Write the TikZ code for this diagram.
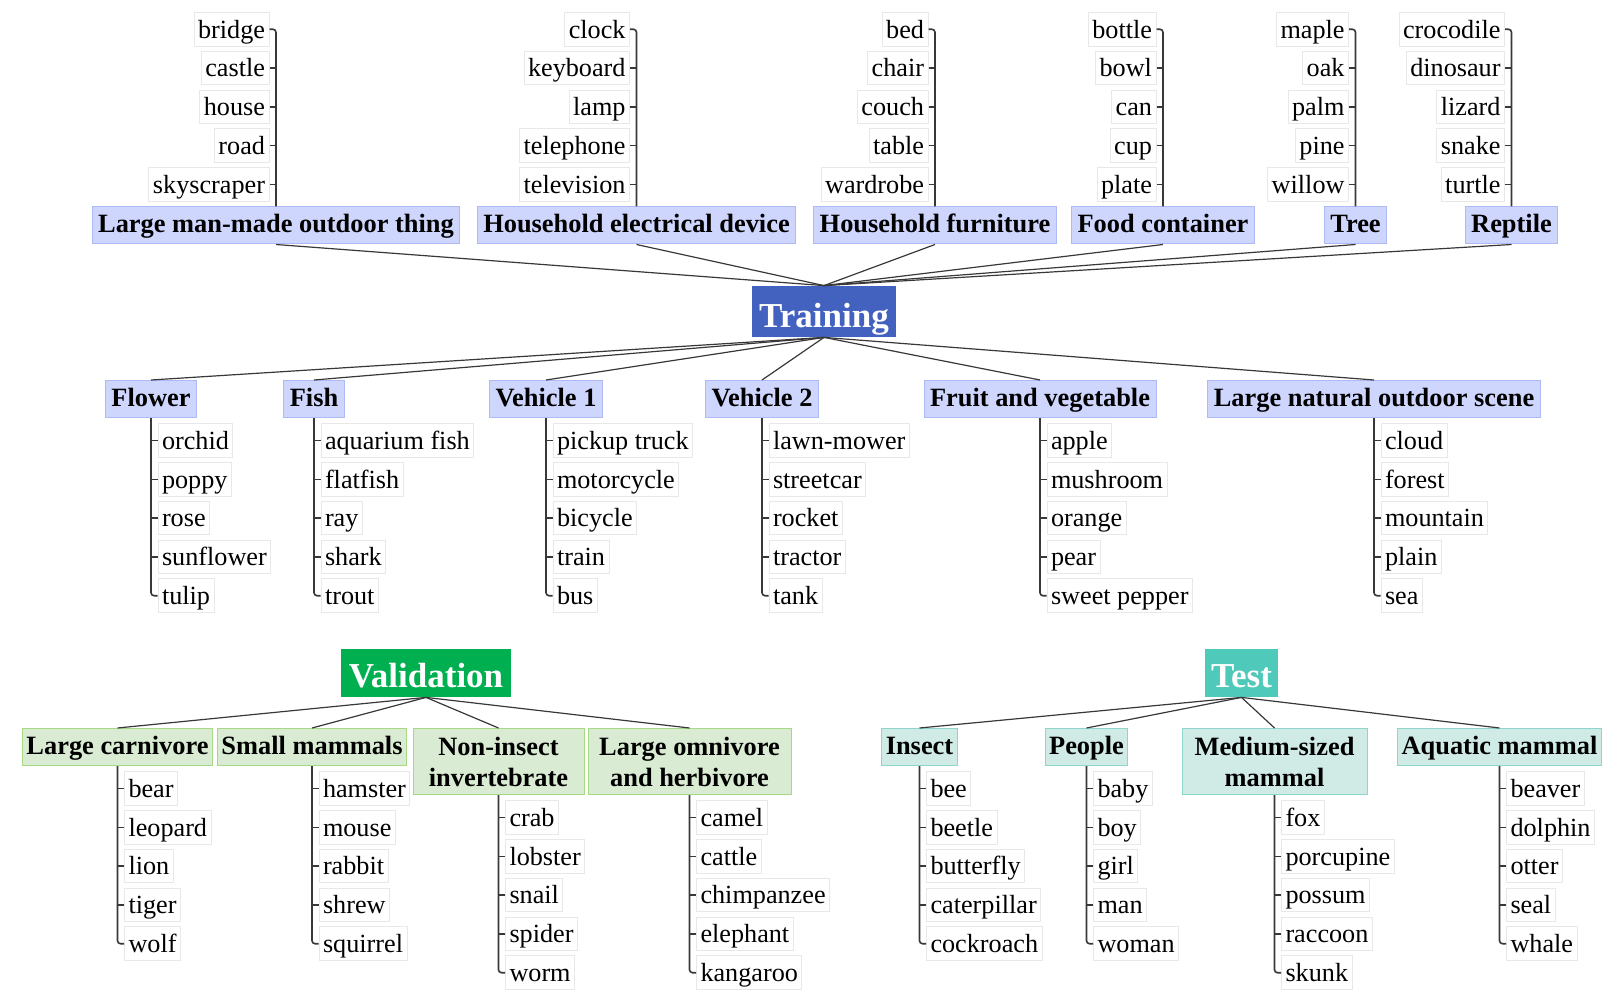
\documentclass[tikz,border=0pt]{standalone}
\usepackage{fontspec}
\setmainfont{Liberation Serif}
\usepackage{xcolor}
\usepackage{tikz}
\usetikzlibrary{calc}
\definecolor{trainx}{HTML}{4361BE}
\definecolor{validx}{HTML}{00B050}
\definecolor{testx}{HTML}{4FC9BA}
\definecolor{bluefill}{HTML}{CFD6FE}
\definecolor{blueline}{HTML}{ADBAF5}
\definecolor{greenfill}{HTML}{D9EBD2}
\definecolor{greenline}{HTML}{A6D886}
\definecolor{tealfill}{HTML}{D0EBE6}
\definecolor{tealline}{HTML}{8ED6CB}
\definecolor{leafline}{HTML}{E8E8E8}
\definecolor{darkx}{HTML}{383838}
\newcommand{\leaffont}{\fontsize{13.1}{15}\selectfont}
\newcommand{\catfont}{\fontsize{13.2}{15.5}\selectfont\bfseries}
\newcommand{\rootfont}{\fontsize{17.5}{20}\selectfont\bfseries}
\tikzset{
  root/.style={text=white,font=\rootfont,inner xsep=3.5pt,inner ysep=4pt,text height=15pt,text depth=1pt},
  catbox/.style={font=\catfont,inner ysep=3pt,line width=0.5pt},
  one/.style={text height=10pt,text depth=2.5pt},
  two/.style={align=center,minimum height=33pt,inner xsep=2pt},
  bluecat/.style={catbox,one,fill=bluefill,draw=blueline,inner xsep=3pt},
  greencat/.style={catbox,fill=greenfill,draw=greenline,inner xsep=2pt},
  tealcat/.style={catbox,fill=tealfill,draw=tealline,inner xsep=2pt},
  leaf/.style={draw=leafline,fill=white,line width=0.5pt,font=\leaffont,inner xsep=2pt,inner ysep=1.8pt,text height=11pt,text depth=2.2pt},
  br/.style={darkx,line width=0.8pt,rounded corners=1.5pt},
  ln/.style={darkx,line width=0.6pt}
}
% leaves stacked above a category, right aligned on its stem
\newcommand{\upleaves}[2]{%
  \foreach \w [count=\i] in {#2}{%
    \node[leaf,anchor=east] (#1\i) at ($(#1.north)+(-6.5,{-22-38.8*(5-\i)})$) {\w};}
  \draw[br] (#11.east) -| (#1.north);
  \foreach \i in {2,...,5} \draw[br] (#1\i.east) -- (#1\i.east -| #1.north);}
% leaves hanging below a category, left aligned on its stem
\newcommand{\downleaves}[2]{%
  \foreach \w [count=\i] in {#2}{%
    \node[leaf,anchor=west] (#1\i) at ($(#1.south)+(6.5,{22.5+38.8*(\i-1)})$) {\w};}
  \draw[br] (#1.south) |- (#15.west);
  \foreach \i in {1,...,4} \draw[br] (#1\i.west) -- (#1\i.west -| #1.south);}

\begin{document}
\begin{tikzpicture}[x=0.5pt,y=-0.5pt]
\useasboundingbox (0,0) rectangle (1621,1000);
% roots
\node[root,fill=trainx,text height=16.5pt] (train) at (824,311.5) {Training};
\node[root,fill=validx,inner xsep=4pt] (valid) at (426,673) {Validation};
\node[root,fill=testx,inner xsep=3pt] (test) at (1241.5,673) {Test};
% training, upper row
\node[bluecat] (manmade) at (276,225.5) {Large man-made outdoor thing};
\node[bluecat] (electric) at (636.5,225.5) {Household electrical device};
\node[bluecat] (furniture) at (935,225.5) {Household furniture};
\node[bluecat] (container) at (1163,225.5) {Food container};
\node[bluecat] (tree) at (1355.5,225.5) {Tree};
\node[bluecat] (reptile) at (1511.5,225.5) {Reptile};
\upleaves{manmade}{bridge,castle,house,road,skyscraper}
\upleaves{electric}{clock,keyboard,lamp,telephone,television}
\upleaves{furniture}{bed,chair,couch,table,wardrobe}
\upleaves{container}{bottle,bowl,can,cup,plate}
\upleaves{tree}{maple,oak,palm,pine,willow}
\upleaves{reptile}{crocodile,dinosaur,lizard,snake,turtle}
\foreach \c in {manmade,electric,furniture,container,tree,reptile}
  \draw[ln] (train.north) -- (\c.south);
% training, lower row
\node[bluecat] (flower) at (151,399) {Flower};
\node[bluecat] (fish) at (314,399) {Fish};
\node[bluecat] (vehicleA) at (546,399) {Vehicle 1};
\node[bluecat] (vehicleB) at (762,399) {Vehicle 2};
\node[bluecat] (fruit) at (1040,399) {Fruit and vegetable};
\node[bluecat] (scene) at (1374,399) {Large natural outdoor scene};
\downleaves{flower}{orchid,poppy,rose,sunflower,tulip}
\downleaves{fish}{aquarium fish,flatfish,ray,shark,trout}
\downleaves{vehicleA}{pickup truck,motorcycle,bicycle,train,bus}
\downleaves{vehicleB}{lawn-mower,streetcar,rocket,tractor,tank}
\downleaves{fruit}{apple,mushroom,orange,pear,sweet pepper}
\downleaves{scene}{cloud,forest,mountain,plain,sea}
\foreach \c in {flower,fish,vehicleA,vehicleB,fruit,scene}
  \draw[ln] (train.south) -- (\c.north);
% validation
\node[greencat,one,anchor=north] (carnivore) at (117.5,728) {Large carnivore};
\node[greencat,one,anchor=north] (smallmam) at (312,728) {Small mammals};
\node[greencat,two,minimum width=85.5pt,anchor=north] (invert) at (498.5,728) {Non-insect\\invertebrate};
\node[greencat,two,minimum width=101.5pt,anchor=north] (omnivore) at (689.5,728) {Large omnivore\\and herbivore};
\downleaves{carnivore}{bear,leopard,lion,tiger,wolf}
\downleaves{smallmam}{hamster,mouse,rabbit,shrew,squirrel}
\downleaves{invert}{crab,lobster,snail,spider,worm}
\downleaves{omnivore}{camel,cattle,chimpanzee,elephant,kangaroo}
\foreach \c in {carnivore,smallmam,invert,omnivore}
  \draw[ln] (valid.south) -- (\c.north);
% test
\node[tealcat,one,anchor=north] (insect) at (919.5,728) {Insect};
\node[tealcat,one,anchor=north] (people) at (1086.5,728) {People};
\node[tealcat,two,minimum width=92.5pt,anchor=north] (medium) at (1274.5,728) {Medium-sized\\mammal};
\node[tealcat,one,anchor=north] (aquatic) at (1499.5,728) {Aquatic mammal};
\downleaves{insect}{bee,beetle,butterfly,caterpillar,cockroach}
\downleaves{people}{baby,boy,girl,man,woman}
\downleaves{medium}{fox,porcupine,possum,raccoon,skunk}
\downleaves{aquatic}{beaver,dolphin,otter,seal,whale}
\foreach \c in {insect,people,medium,aquatic}
  \draw[ln] (test.south) -- (\c.north);
\end{tikzpicture}
\end{document}
